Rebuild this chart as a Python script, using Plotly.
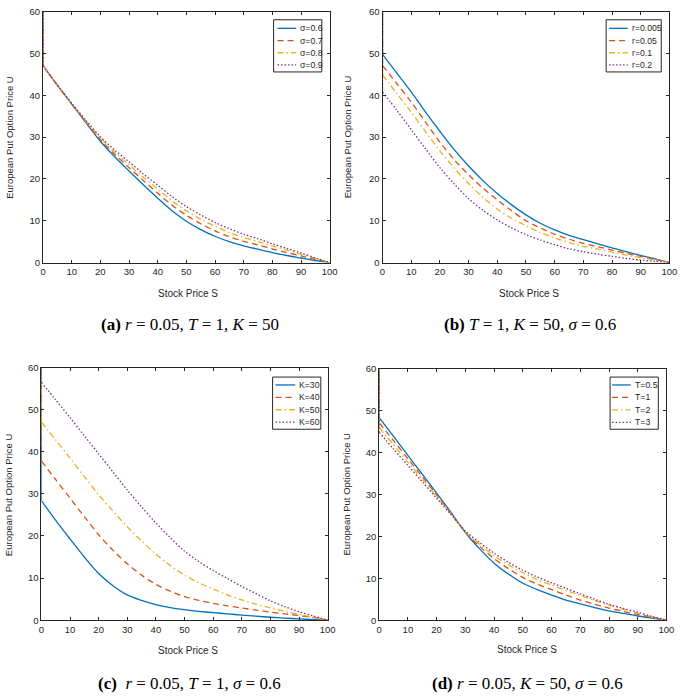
import plotly.graph_objects as go

W, H = 685, 700

# Stock price grid
S = [0, 5, 10, 15, 20, 25, 30, 35, 40, 45, 50, 55, 60, 65, 70, 75, 80, 85, 90, 95, 100]
SPIKE_TOP = 60  # the numerical solutions jump to the top of the axis at S = 0

# (a) r=0.05, T=1, K=50 ; varying sigma
a_names = ["σ=0.6", "σ=0.7", "σ=0.8", "σ=0.9"]
a_s06 = [47.1, 42.4, 37.9, 33.4, 29.0, 25.3, 21.9, 18.6, 15.4, 12.4, 9.9, 7.9, 6.3, 5.0, 4.0, 3.2, 2.4, 1.7, 1.1, 0.5, 0.0]
a_s07 = [47.1, 42.4, 37.9, 33.6, 29.4, 25.9, 22.7, 19.6, 16.6, 13.7, 11.3, 9.3, 7.6, 6.2, 5.1, 4.2, 3.3, 2.4, 1.6, 0.8, 0.0]
a_s08 = [47.1, 42.4, 38.0, 33.8, 29.8, 26.4, 23.4, 20.4, 17.6, 14.8, 12.4, 10.4, 8.7, 7.2, 6.0, 5.0, 4.0, 3.0, 2.0, 1.0, 0.0]
a_s09 = [47.1, 42.4, 38.1, 34.0, 30.1, 26.9, 24.1, 21.2, 18.5, 15.8, 13.4, 11.4, 9.6, 8.1, 6.8, 5.7, 4.5, 3.4, 2.3, 1.1, 0.0]

# (b) T=1, K=50, sigma=0.6 ; varying r
b_names = ["r=0.005", "r=0.05", "r=0.1", "r=0.2"]
b_r0005 = [49.8, 45.3, 40.8, 36.0, 31.4, 27.0, 23.1, 19.6, 16.5, 13.8, 11.4, 9.4, 7.8, 6.5, 5.5, 4.5, 3.5, 2.6, 1.7, 0.9, 0.0]
b_r005 = [47.1, 42.8, 38.4, 33.6, 28.8, 24.6, 21.0, 17.8, 15.0, 12.4, 10.0, 8.3, 6.8, 5.6, 4.6, 3.8, 3.0, 2.2, 1.5, 0.7, 0.0]
b_r01 = [44.9, 40.4, 36.0, 31.3, 26.7, 22.6, 18.9, 15.6, 12.8, 10.6, 8.8, 7.2, 5.9, 4.8, 3.9, 3.2, 2.5, 1.8, 1.2, 0.6, 0.0]
b_r02 = [40.8, 36.4, 31.8, 27.2, 22.7, 18.8, 15.3, 12.5, 10.2, 8.3, 6.7, 5.4, 4.3, 3.3, 2.6, 2.0, 1.5, 1.0, 0.6, 0.3, 0.0]

# (c) r=0.05, T=1, sigma=0.6 ; varying K
c_names = ["K=30", "K=40", "K=50", "K=60"]
c_k30 = [28.4, 23.7, 19.3, 15.0, 11.1, 8.2, 6.0, 4.7, 3.7, 3.0, 2.5, 2.1, 1.8, 1.5, 1.2, 0.95, 0.7, 0.5, 0.3, 0.15, 0.0]
c_k40 = [37.8, 33.4, 29.0, 24.6, 20.3, 16.6, 13.4, 10.7, 8.5, 6.9, 5.6, 4.7, 4.0, 3.4, 2.9, 2.4, 1.9, 1.5, 1.1, 0.6, 0.0]
c_k50 = [47.1, 42.8, 38.5, 34.1, 29.8, 25.9, 22.2, 18.8, 15.7, 13.0, 10.7, 8.9, 7.4, 6.0, 4.8, 3.8, 2.9, 2.1, 1.4, 0.7, 0.0]
c_k60 = [56.5, 52.3, 48.1, 43.8, 39.5, 35.2, 30.9, 26.9, 23.1, 19.6, 16.4, 13.9, 11.8, 9.9, 8.0, 6.3, 4.6, 3.2, 2.0, 1.0, 0.0]

# (d) r=0.05, K=50, sigma=0.6 ; varying T
d_names = ["T=0.5", "T=1", "T=2", "T=3"]
d_t05 = [48.3, 43.8, 39.3, 34.8, 30.3, 25.7, 20.9, 17.0, 13.6, 11.0, 8.8, 7.3, 6.0, 4.8, 3.9, 3.0, 2.2, 1.6, 1.0, 0.5, 0.0]
d_t1 = [47.1, 42.8, 38.5, 34.2, 29.9, 25.4, 21.0, 17.6, 14.7, 12.3, 10.2, 8.6, 7.3, 6.0, 4.8, 3.8, 2.9, 2.1, 1.4, 0.7, 0.0]
d_t2 = [45.9, 41.8, 37.7, 33.6, 29.5, 25.3, 21.1, 18.1, 15.4, 13.2, 11.3, 9.7, 8.4, 7.1, 5.9, 4.7, 3.6, 2.6, 1.7, 0.8, 0.0]
d_t3 = [44.8, 40.8, 36.9, 33.0, 29.1, 25.2, 21.3, 18.5, 16.0, 13.8, 11.9, 10.3, 8.9, 7.6, 6.3, 5.0, 3.8, 2.8, 1.9, 0.9, 0.0]

x_ticks = [0, 10, 20, 30, 40, 50, 60, 70, 80, 90, 100]
y_ticks = [0, 10, 20, 30, 40, 50, 60]

captions = [
    "<b>(a)</b> <i>r</i> = 0.05, <i>T</i> = 1, <i>K</i> = 50",
    "<b>(b)</b> <i>T</i> = 1, <i>K</i> = 50, <i>σ</i> = 0.6",
    "<b>(c)</b>  <i>r</i> = 0.05, <i>T</i> = 1, <i>σ</i> = 0.6",
    "<b>(d)</b> <i>r</i> = 0.05, <i>K</i> = 50, <i>σ</i> = 0.6",
]

colors = ["#0072BD", "#D95319", "#EDB120", "#7E2F8E"]
dashes = ["solid", "6px,4px", "6px,3px,1.5px,3px", "1.5px,2px"]

AX = "#262626"
SANS = "Liberation Sans, Arial, Helvetica, sans-serif"
SERIF = "Liberation Serif, Times New Roman, serif"

# pixel layout of the four panels
boxes = [(40.7, 332.0, 5.7, 260.7), (385.7, 677.3, 5.7, 260.7),
         (39.0, 330.0, 367.3, 624.0), (382.3, 674.3, 368.3, 624.0)]
# legend box: left, right, top, bottom, sample x0, sample x1, text x, first row y, row step
legend_geo = [(275, 324, 14, 67, 279, 298, 300, 22.7, 12.4),
              (613, 669, 14, 67, 616, 635, 637, 22.7, 12.4),
              (274, 323, 377, 430, 277, 297, 299, 385.0, 12.6),
              (617, 666, 377, 430, 619, 638, 640, 385.0, 12.7)]
xtitle_pos = [(188, 292), (535, 292), (188, 655), (533, 654)]
ytitle_pos = [(7, 133), (351, 133), (5, 496), (349, 496)]
caption_pos = [(190, 324), (536, 324), (190, 688), (533, 688)]

panels = [
    (a_names, [a_s06, a_s07, a_s08, a_s09]),
    (b_names, [b_r0005, b_r005, b_r01, b_r02]),
    (c_names, [c_k30, c_k40, c_k50, c_k60]),
    (d_names, [d_t05, d_t1, d_t2, d_t3]),
]

fig = go.Figure()
layout = dict(width=W, height=H, autosize=False,
              margin=dict(l=0, r=0, t=0, b=0, pad=0),
              paper_bgcolor="white", plot_bgcolor="white",
              font=dict(family=SANS, color=AX, size=10),
              showlegend=False, annotations=[], shapes=[])


def px(x):
    return x / W


def py(y):
    return 1 - y / H


for i, (names, series) in enumerate(panels):
    n = i + 1
    xa = "x" if n == 1 else f"x{n}"
    ya = "y" if n == 1 else f"y{n}"
    for j, (nm, ys) in enumerate(zip(names, series)):
        line = dict(color=colors[j], width=1.3, dash=dashes[j])
        # vertical jump at S = 0
        fig.add_trace(go.Scatter(
            x=[S[0], S[0]], y=[ys[0], SPIKE_TOP], mode="lines",
            xaxis=xa, yaxis=ya, line=line, hoverinfo="skip", showlegend=False))
        fig.add_trace(go.Scatter(
            x=S, y=ys, mode="lines", name=nm, xaxis=xa, yaxis=ya,
            line=dict(line, shape="spline", smoothing=0.9),
            hoverinfo="skip", showlegend=False))
    l, r, t, b = boxes[i]
    common = dict(showline=True, linecolor=AX, linewidth=1, mirror="ticks",
                  ticks="inside", ticklen=3, tickcolor=AX, tickwidth=1,
                  showgrid=False, zeroline=False, fixedrange=True,
                  tickfont=dict(family=SANS, size=9.5, color=AX))
    layout["xaxis" if n == 1 else f"xaxis{n}"] = dict(
        domain=[px(l), px(r)], range=[0, 100], tickvals=x_ticks,
        anchor=ya, **common)
    layout["yaxis" if n == 1 else f"yaxis{n}"] = dict(
        domain=[py(b), py(t)], range=[0, 60], tickvals=y_ticks,
        anchor=xa, **common)

    # legend (drawn compactly, MATLAB style)
    L, R, T, B, s0, s1, tx, y0, dy = legend_geo[i]
    layout["shapes"].append(dict(
        type="rect", xref="paper", yref="paper",
        x0=px(L), x1=px(R), y0=py(B), y1=py(T),
        line=dict(color=AX, width=1), fillcolor="white", layer="above"))
    for j, nm in enumerate(names):
        yy = py(y0 + j * dy)
        layout["shapes"].append(dict(
            type="line", xref="paper", yref="paper",
            x0=px(s0), x1=px(s1), y0=yy, y1=yy, layer="above",
            line=dict(color=colors[j], width=1.3, dash=dashes[j])))
        layout["annotations"].append(dict(
            text=nm, x=px(tx), y=yy, xref="paper", yref="paper",
            showarrow=False, xanchor="left", yanchor="middle",
            font=dict(family=SANS, size=8.7, color=AX)))

    xt, yt = xtitle_pos[i]
    layout["annotations"].append(dict(
        text="Stock Price S", x=px(xt), y=py(yt), xref="paper", yref="paper",
        showarrow=False, xanchor="center", yanchor="middle",
        font=dict(family=SANS, size=10, color=AX)))
    xt, yt = ytitle_pos[i]
    layout["annotations"].append(dict(
        text="European Put Option Price U", x=px(xt), y=py(yt),
        xref="paper", yref="paper", showarrow=False, textangle=-90,
        xanchor="center", yanchor="middle",
        font=dict(family=SANS, size=9.5, color=AX)))
    xt, yt = caption_pos[i]
    layout["annotations"].append(dict(
        text=captions[i], x=px(xt), y=py(yt), xref="paper", yref="paper",
        showarrow=False, xanchor="center", yanchor="middle",
        font=dict(family=SERIF, size=17, color="black")))

fig.update_layout(**layout)
fig.write_html(
    "out.html",
    config={"displayModeBar": False, "staticPlot": True},
    post_script="document.body.style.margin='0px';"
                "document.documentElement.style.overflow='hidden';")
